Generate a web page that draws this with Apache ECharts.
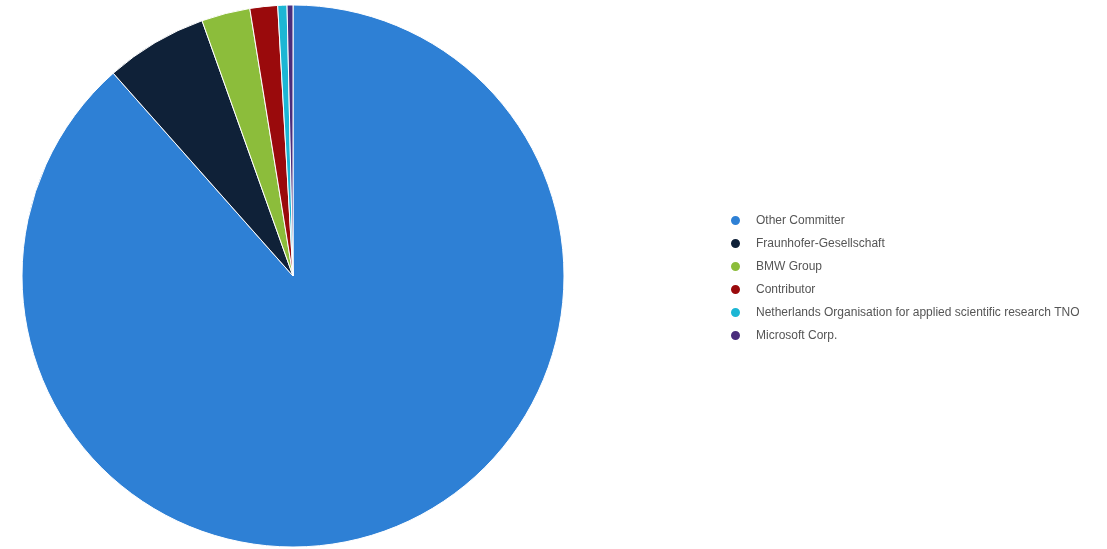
<!DOCTYPE html>
<html>
<head>
<meta charset="utf-8">
<script src="https://cdn.jsdelivr.net/npm/echarts@6/dist/echarts.min.js"></script>
<style>
html,body{margin:0;padding:0;background:#fff;}
#c{width:1107px;height:549px;}
</style>
</head>
<body>
<div id="c"></div>
<script>
const categories = ["Other Committer","Fraunhofer-Gesellschaft","BMW Group","Contributor","Netherlands Organisation for applied scientific research TNO","Microsoft Corp."];
const values = [88.5, 6.1, 2.9, 1.65, 0.55, 0.35];
const colors = ["#2e80d5","#0f2138","#8cbd3b","#9a0a0c","#1cb6d4","#4a2d7c"];

const chart = echarts.init(document.getElementById('c'));
chart.setOption({
  animation:false,
  color: colors,
  legend:{
    orient:'vertical',
    left:729,
    top:214,
    padding:0,
    icon:'circle',
    itemWidth:11,
    itemHeight:11,
    itemGap:10,
    textStyle:{fontFamily:'Liberation Sans, Arial, sans-serif',fontSize:12,lineHeight:11,color:'#555',padding:[0,0,0,10]},
    data:categories
  },
  series:[{
    type:'pie',
    center:[293,276],
    radius:[0,271],
    startAngle:90,
    clockwise:true,
    label:{show:false},
    labelLine:{show:false},
    itemStyle:{borderColor:'#fff',borderWidth:1},
    data:categories.map((n,i)=>({name:n,value:values[i]}))
  }]
});
</script>
</body>
</html>
